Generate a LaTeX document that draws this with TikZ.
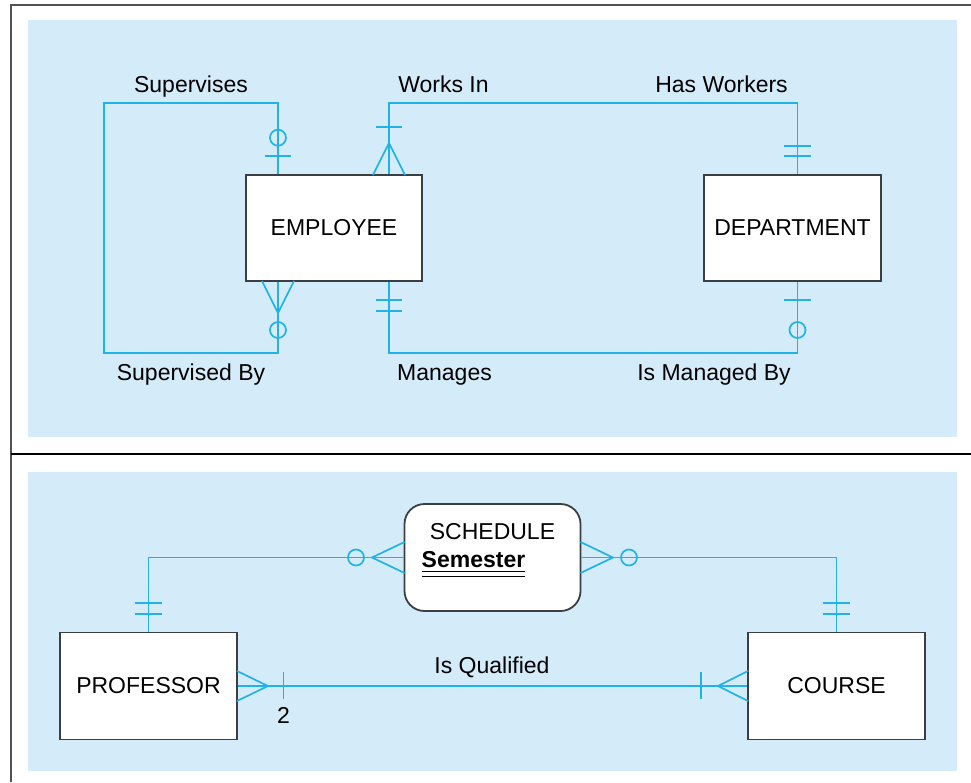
\documentclass[tikz,border=0pt]{standalone}
\usepackage{fontspec}
\setmainfont{Liberation Sans}
\usetikzlibrary{calc}
\definecolor{panel}{HTML}{D4ECFA}
\definecolor{cyanline}{HTML}{1FB3EA}
\definecolor{boxline}{HTML}{3A3F44}
\definecolor{framec}{HTML}{505254}
\begin{document}
\begin{tikzpicture}[x=1pt,y=-1pt,
  lbl/.style={font=\fontsize{23}{27}\selectfont, inner sep=0pt, anchor=base},
  entity/.style={draw=boxline, line width=1.8pt, fill=white, font=\fontsize{23}{27}\selectfont, inner sep=0pt},
  rel/.style={draw=cyanline, line width=1.7pt}]
\useasboundingbox (0,0) rectangle (971,782);
% panels and frame
\fill[panel] (28,20) rectangle (957,437);
\fill[panel] (28,472) rectangle (957,771);
\draw[framec, line width=1.8pt] (11,782) -- (11,5) -- (971,5);
\draw[black, line width=2pt] (11,454) -- (971,454);

% entities
\node[entity, minimum width=176pt, minimum height=106pt] (emp) at (334,228) {EMPLOYEE};
\node[entity, minimum width=177pt, minimum height=106pt] (dept) at (792.5,228) {DEPARTMENT};
\node[entity, rounded corners=20pt, minimum width=176pt, minimum height=107pt] (sched) at (492.5,557.5) {};
\node[entity, minimum width=177pt, minimum height=107pt] (prof) at (148.5,686) {PROFESSOR};
\node[entity, minimum width=177pt, minimum height=107pt] (course) at (836.5,686) {COURSE};
\node[lbl] (schedt) at (492.5,539) {SCHEDULE};
\node[lbl, font=\fontsize{23}{27}\selectfont\bfseries] (sem) at (473.5,567) {Semester};
\draw[black, line width=1.8pt] ([yshift=-4.5pt]sem.base west) -- ([yshift=-4.5pt]sem.base east);
\draw[black, line width=0.9pt] ([yshift=-9.5pt]sem.base west) -- ([yshift=-9.5pt]sem.base east);

% Supervises / Supervised By
\coordinate (c1) at (278,103); \coordinate (c2) at (104,103);
\coordinate (c3) at (104,353); \coordinate (c4) at (278,353);
\draw[rel] (emp.north -| c1) -- (c1) -- (c2) -- (c3) -- (c4) -- (emp.south -| c4);
\draw[rel] (278,137.7) circle[radius=8pt];
\draw[rel] (265,156) -- (291,156);
\draw[rel] (262,281) -- (278,313) -- (294,281);
\draw[rel] (278,330) circle[radius=8pt];

% Works In / Has Workers
\coordinate (w1) at (389,103); \coordinate (w2) at (797.5,103);
\draw[rel] (emp.north -| w1) -- (w1) -- (w2) -- (dept.north -| w2);
\draw[rel] (376,127) -- (402,127);
\draw[rel] (373,175) -- (389,143) -- (405,175);
\draw[rel] (784,146) -- (811,146);
\draw[rel] (784,156) -- (811,156);

% Manages / Is Managed By
\coordinate (m1) at (389,353); \coordinate (m2) at (797.5,353);
\draw[rel] (emp.south -| m1) -- (m1) -- (m2) -- (dept.south -| m2);
\draw[rel] (376,300) -- (402,300);
\draw[rel] (376,311) -- (402,311);
\draw[rel] (784,300) -- (811,300);
\draw[rel] (797.5,330) circle[radius=8pt];

% Schedule connectors
\coordinate (p1) at (148.5,557.5);
\draw[rel] (sched.west) -- (p1) -- (prof.north -| p1);
\draw[rel] (404.5,542) -- (372,557.5) -- (404.5,573);
\draw[rel] (356,557.5) circle[radius=8pt];
\draw[rel] (135,603) -- (162,603);
\draw[rel] (135,614) -- (162,614);
\coordinate (q1) at (836.5,557.5);
\draw[rel] (sched.east) -- (q1) -- (course.north -| q1);
\draw[rel] (580.5,542) -- (613,557.5) -- (580.5,573);
\draw[rel] (629,557.5) circle[radius=8pt];
\draw[rel] (823,603) -- (850,603);
\draw[rel] (823,614) -- (850,614);

% Is Qualified
\draw[rel] (prof.east) -- (course.west);
\draw[rel] (237,671) -- (268,686) -- (237,701);
\draw[rel] (283.5,672) -- (283.5,699);
\draw[rel] (748,671) -- (718,686) -- (748,701);
\draw[rel] (701,672) -- (701,699);

% labels
\node[lbl] (l1) at (191,92) {Supervises};
\node[lbl] (l2) at (443.5,92) {Works In};
\node[lbl] (l3) at (721.5,92) {Has Workers};
\node[lbl] (l4) at (191,380) {Supervised By};
\node[lbl] (l5) at (444.5,380) {Manages};
\node[lbl] (l6) at (714,380) {Is Managed By};
\node[lbl] (l7) at (492,673) {Is Qualified};
\node[lbl] (l8) at (283.5,723) {2};
\end{tikzpicture}
\end{document}
